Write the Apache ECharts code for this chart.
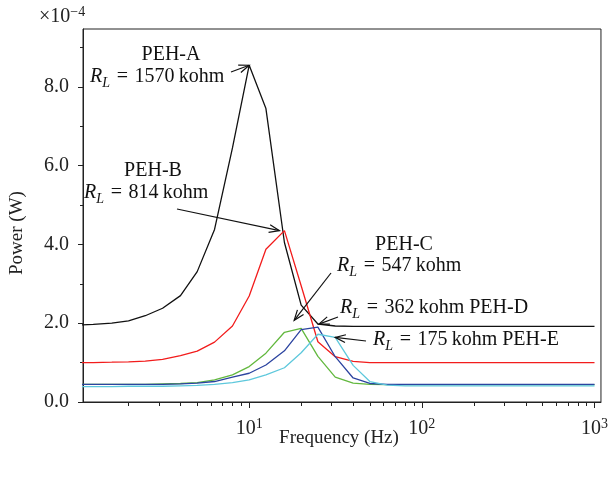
<!DOCTYPE html>
<html><head><meta charset="utf-8">
<script src="https://cdn.jsdelivr.net/npm/echarts@6/dist/echarts.min.js"></script>
<style>html,body{margin:0;padding:0;background:#fff}#c{width:611px;height:477px}</style>
</head><body><div id="c"></div>
<script>
// Frequency (Hz) – one-third-octave points
const freqHz = [1, 1.25, 1.6, 2, 2.5, 3.15, 4, 5, 6.3, 8, 10, 12.5, 16, 20, 25, 31.5, 40, 50, 63, 80, 100, 125, 160, 200, 250, 315, 400, 500, 630, 800, 1000];
// Power (×10^-4 W)
const pehA = [1.95, 1.97, 2.0, 2.06, 2.19, 2.38, 2.70, 3.31, 4.38, 6.45, 8.55, 7.45, 4.05, 2.46, 1.98, 1.93, 1.92, 1.92, 1.92, 1.92, 1.92, 1.92, 1.92, 1.92, 1.92, 1.92, 1.92, 1.92, 1.92, 1.92, 1.92];
const pehB = [1.0, 1.0, 1.01, 1.02, 1.04, 1.08, 1.18, 1.29, 1.52, 1.93, 2.69, 3.88, 4.35, 2.95, 1.53, 1.15, 1.03, 1.0, 1.0, 1.0, 1.0, 1.0, 1.0, 1.0, 1.0, 1.0, 1.0, 1.0, 1.0, 1.0, 1.0];
const pehC = [0.45, 0.45, 0.45, 0.45, 0.45, 0.46, 0.47, 0.49, 0.56, 0.69, 0.90, 1.24, 1.77, 1.87, 1.16, 0.63, 0.48, 0.45, 0.44, 0.44, 0.44, 0.44, 0.44, 0.44, 0.44, 0.44, 0.44, 0.44, 0.44, 0.44, 0.44];
const pehD = [0.45, 0.45, 0.45, 0.45, 0.45, 0.45, 0.46, 0.48, 0.52, 0.63, 0.73, 0.94, 1.30, 1.84, 1.90, 1.15, 0.61, 0.47, 0.45, 0.45, 0.45, 0.45, 0.45, 0.45, 0.45, 0.45, 0.45, 0.45, 0.45, 0.45, 0.45];
const pehE = [0.39, 0.39, 0.39, 0.40, 0.40, 0.40, 0.41, 0.42, 0.45, 0.49, 0.56, 0.69, 0.87, 1.25, 1.72, 1.64, 0.93, 0.52, 0.43, 0.41, 0.41, 0.41, 0.41, 0.41, 0.41, 0.41, 0.41, 0.41, 0.41, 0.41, 0.41];

const yMajorTicks = [0, 2, 4, 6, 8];
const yMinorTicks = [1, 3, 5, 7, 9];
const xMajorTicks = [10, 100, 1000];
const xMinorTicks = [2, 3, 4, 5, 6, 7, 8, 9, 20, 30, 40, 50, 60, 70, 80, 90, 200, 300, 400, 500, 600, 700, 800, 900];

const FONT = '"Liberation Serif", "DejaVu Serif", serif';
const FS = 20;
const AX = '#222';

const chart = echarts.init(document.getElementById('c'), null, {renderer: 'canvas'});
const pairs = arr => freqHz.map((f, i) => [f, arr[i]]);
const mk = (name, arr, color) => ({
  name, type: 'line', data: pairs(arr), symbol: 'none', showSymbol: false,
  lineStyle: {color, width: 1.3}, itemStyle: {color}, xAxisIndex: 0, yAxisIndex: 0,
  animation: false, z: 3
});

const xMin = 1.09, xMax = 1090, yMax = 9.47;

chart.setOption({
  animation: false,
  backgroundColor: '#fff',
  grid: {left: 83, right: 8, top: 29, bottom: 75, show: true, borderColor: AX, borderWidth: 1, backgroundColor: 'transparent'},
  xAxis: [{
    type: 'log', logBase: 10, min: xMin, max: xMax, position: 'bottom',
    axisLine: {show: true, lineStyle: {color: AX, width: 1}},
    axisTick: {show: true, inside: false, length: 6, customValues: xMajorTicks, lineStyle: {color: AX}},
    axisLabel: {
      customValues: xMajorTicks, margin: 15, color: '#222', fontFamily: FONT, fontSize: FS,
      formatter: v => '10{sup|' + Math.round(Math.log10(v)) + '}',
      rich: {sup: {fontSize: 14, fontFamily: FONT, color: '#222', verticalAlign: 'top', padding: [0, 0, 9, 0]}}
    },
    splitLine: {show: false}, minorTick: {show: false}
  }, {
    type: 'log', logBase: 10, min: xMin, max: xMax, position: 'bottom',
    axisLine: {show: false},
    axisTick: {show: true, inside: false, length: 4, customValues: xMinorTicks, lineStyle: {color: AX}},
    axisLabel: {show: false}, splitLine: {show: false}
  }],
  yAxis: [{
    type: 'value', min: 0, max: yMax, position: 'left',
    axisLine: {show: true, lineStyle: {color: AX, width: 1}},
    axisTick: {show: true, inside: false, length: 5, customValues: yMajorTicks, lineStyle: {color: AX}},
    axisLabel: {customValues: yMajorTicks, margin: 14, color: '#222', fontFamily: FONT, fontSize: FS,
      formatter: v => v.toFixed(1)},
    splitLine: {show: false}
  }, {
    type: 'value', min: 0, max: yMax, position: 'left',
    axisLine: {show: false},
    axisTick: {show: true, inside: false, length: 3, customValues: yMinorTicks, lineStyle: {color: AX}},
    axisLabel: {show: false}, splitLine: {show: false}
  }],
  series: [
    mk('PEH-A', pehA, '#111111'),
    mk('PEH-B', pehB, '#f21c1c'),
    mk('PEH-C', pehC, '#62b83e'),
    mk('PEH-D', pehD, '#2c44a0'),
    mk('PEH-E', pehE, '#5ec8dc')
  ]
});

// ---- annotations ----
const px = (f, v) => chart.convertToPixel({xAxisIndex: 0, yAxisIndex: 0}, [f, v]);
function arrow(tail, tip) {
  const head = 11, ang = 0.36;
  const a = Math.atan2(tip[1] - tail[1], tip[0] - tail[0]);
  const p1 = [tip[0] - head * Math.cos(a - ang), tip[1] - head * Math.sin(a - ang)];
  const p2 = [tip[0] - head * Math.cos(a + ang), tip[1] - head * Math.sin(a + ang)];
  return [
    {type: 'line', silent: true, z: 100, shape: {x1: tail[0], y1: tail[1], x2: tip[0], y2: tip[1]}, style: {stroke: '#111', lineWidth: 1.2}},
    {type: 'polyline', silent: true, z: 100, shape: {points: [p1, tip, p2]}, style: {stroke: '#111', lineWidth: 1.2, fill: null}}
  ];
}
const rich = {
  r: {fontFamily: FONT, fontSize: FS, fontStyle: 'italic', fill: '#111', color: '#111', lineHeight: 26, verticalAlign: 'middle'},
  s: {fontFamily: FONT, fontSize: 14, fontStyle: 'italic', fill: '#111', color: '#111', lineHeight: 14, verticalAlign: 'bottom'},
  n: {fontFamily: FONT, fontSize: FS, fill: '#111', color: '#111', lineHeight: 26, verticalAlign: 'middle'}
};
function txt(s, x, y, align) {
  return {type: 'text', silent: true, z: 100, x, y,
    style: {text: s, fontFamily: FONT, fontSize: FS, fill: '#111', align: align || 'left', verticalAlign: 'middle', rich}};
}
// R_L = value kohm (math spacing around "=", thin space before unit)
const rl = (v, tail) => '{r|R}{s|L}{n|\u2004=\u2004' + v + '\u2009kohm' + (tail ? ' ' + tail : '') + '}';

const tipA = px(10, 8.55);
const tipB = px(16, 4.35); tipB[0] -= 5;
const tipC = px(20, 1.87); tipC[0] -= 7; tipC[1] -= 8;
const tipD = px(25, 1.90); tipD[0] += 1; tipD[1] -= 3;
const tipE = px(31.5, 1.64);

const elems = [
  txt('PEH-A', 171, 55, 'center'),
  txt(rl('1570'), 90, 77),
  txt('PEH-B', 153, 171, 'center'),
  txt(rl('814'), 84, 193),
  txt('PEH-C', 404, 245, 'center'),
  txt(rl('547'), 337, 266),
  txt(rl('362', 'PEH-D'), 340, 308),
  txt(rl('175', 'PEH-E'), 373, 340),
  ...arrow([231, 72], tipA),
  ...arrow([177, 209], tipB),
  ...arrow([331, 273], tipC),
  ...arrow([338, 317], tipD),
  ...arrow([366, 341], tipE),
  // axis titles and exponent
  {type: 'text', silent: true, x: 17, y: 233, rotation: Math.PI / 2,
    style: {text: 'Power (W)', fontFamily: FONT, fontSize: 19, fill: '#222', align: 'center', verticalAlign: 'middle'}},
  {type: 'text', silent: true, x: 339, y: 438,
    style: {text: 'Frequency (Hz)', fontFamily: FONT, fontSize: 19, fill: '#222', align: 'center', verticalAlign: 'middle'}},
  {type: 'text', silent: true, x: 39, y: 17,
    style: {text: '×10{e|−4}', fontFamily: FONT, fontSize: FS, fill: '#222', align: 'left', verticalAlign: 'middle',
      rich: {e: {fontFamily: FONT, fontSize: 14, fill: '#222', verticalAlign: 'top', padding: [0, 0, 9, 0]}}}}
];
chart.setOption({graphic: {elements: elems}});
</script>
</body></html>
